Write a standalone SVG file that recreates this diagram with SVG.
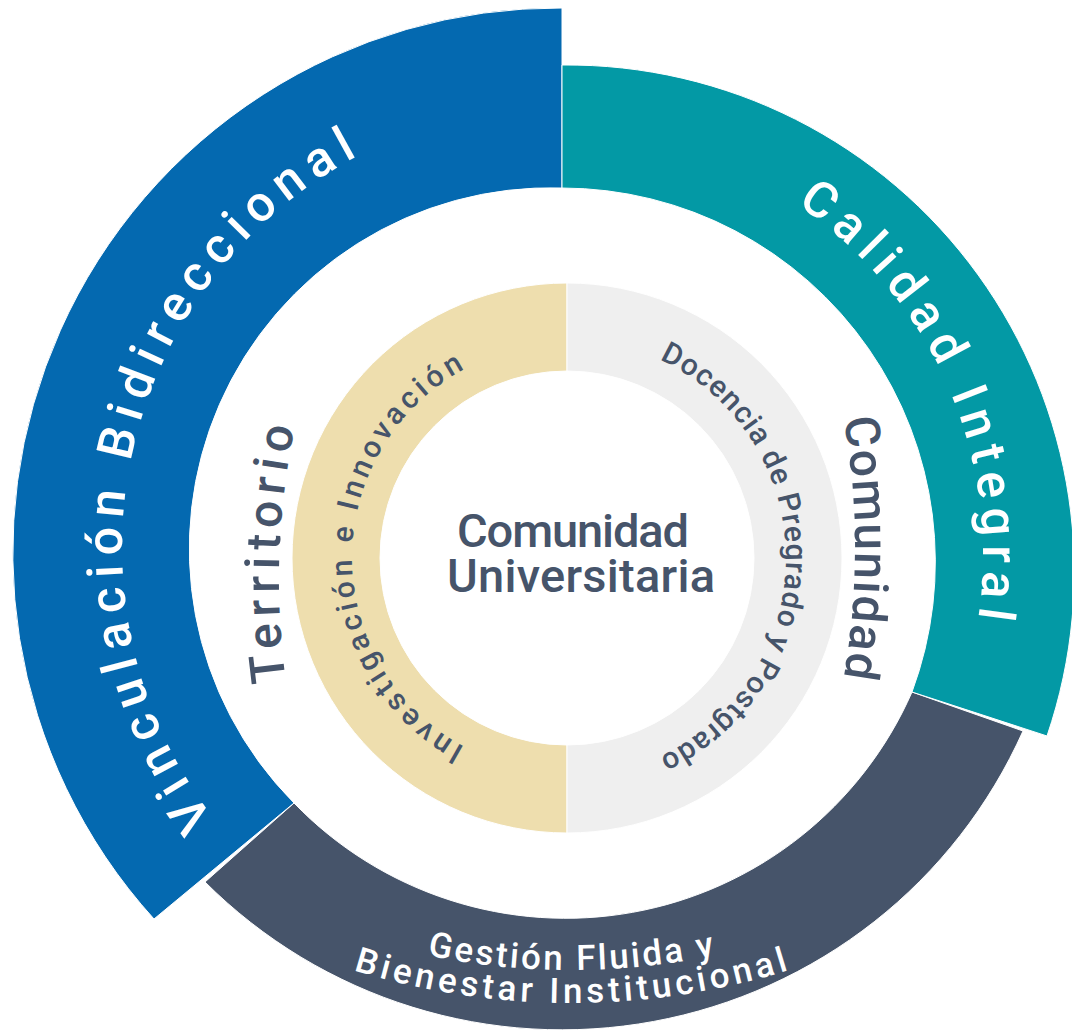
<svg xmlns="http://www.w3.org/2000/svg" width="1072" height="1031" viewBox="0 0 1072 1031">
<defs>
<style>
.seg{stroke:#ffffff;stroke-width:1}
.wt{fill:#ffffff;font-family:Roboto,'Liberation Sans',sans-serif;font-weight:500;text-anchor:middle}
.dk{fill:#46546A;font-family:Roboto,'Liberation Sans',sans-serif;font-weight:500;text-anchor:middle}
</style>
<path id="pV" d="M397.9,958.9 A444,444 0 0 1 583.4,104.3" fill="none"/>
<path id="pC" d="M459.8,144 A423,423 0 0 1 794.7,906.9" fill="none"/>
<path id="pG1" d="M271,903 A705,705 0 0 0 871,903" fill="none"/>
<path id="pG2" d="M251,930.2 A740,740 0 0 0 891,930.2" fill="none"/>
<path id="pT" d="M303.5,770 A750,750 0 0 1 318.4,340" fill="none"/>
<path id="pCo" d="M825.9,341.3 A750,750 0 0 1 825.9,754.7" fill="none"/>
<path id="pD" d="M377.3,448.5 A219,219 0 1 1 377.3,667.5" fill="none"/>
<path id="pI" d="M753.2,665.5 A215,215 0 1 1 753.2,450.5" fill="none"/>
</defs>
<rect width="1072" height="1031" fill="#ffffff"/>

<g id="seg-gestion">
<path class="seg" fill="#46546A" d="M294,803 L205,882 A505,505 0 0 0 1023,731 L912,692 A378,378 0 0 1 294,803 Z"/>
<text class="wt" font-size="35"><textPath href="#pG1" startOffset="50%" textLength="290" lengthAdjust="spacing">Gestión Fluida y</textPath></text>
<text class="wt" font-size="35"><textPath href="#pG2" startOffset="50%" textLength="442" lengthAdjust="spacing">Bienestar Institucional</textPath></text>
</g>

<g id="seg-vinculacion">
<path class="seg" fill="#0469B0" d="M562,8 A545,545 0 0 0 154,919 L294,803 A361,361 0 0 1 562,188 Z"/>
<text class="wt" font-size="50"><textPath href="#pV" startOffset="50%" textLength="771" lengthAdjust="spacing">Vinculación Bidireccional</textPath></text>
</g>

<g id="seg-calidad">
<path class="seg" fill="#0399A5" d="M562,65 A507,507 0 0 1 1047,736 L912,692 A374,374 0 0 0 562,188 Z"/>
<text class="wt" font-size="50"><textPath href="#pC" startOffset="50%" textLength="477" lengthAdjust="spacing">Calidad Integral</textPath></text>
</g>

<g id="label-territorio">
<text class="dk" font-size="48"><textPath href="#pT" startOffset="50%" textLength="255" lengthAdjust="spacing">Territorio</textPath></text>
</g>

<g id="label-comunidad">
<text class="dk" font-size="48"><textPath href="#pCo" startOffset="50%" textLength="260" lengthAdjust="spacing">Comunidad</textPath></text>
</g>

<g id="ring-investigacion">
<path class="seg" fill="#EEDEAE" d="M567,283 A275,275 0 0 0 567,833 L567,745 A187,187 0 0 1 567,371 Z"/>
<text class="dk" font-size="30"><textPath href="#pI" startOffset="50%" textLength="462" lengthAdjust="spacing">Investigación e Innovación</textPath></text>
</g>

<g id="ring-docencia">
<path class="seg" fill="#EFEFEF" d="M567,283 A275,275 0 0 1 567,833 L567,745 A187,187 0 0 0 567,371 Z"/>
<text class="dk" font-size="30"><textPath href="#pD" startOffset="50%" textLength="497" lengthAdjust="spacing">Docencia de Pregrado y Postgrado</textPath></text>
</g>

<g id="center">
<text class="dk" font-size="47" x="573" y="547" textLength="232" lengthAdjust="spacing">Comunidad</text>
<text class="dk" font-size="47" x="581" y="592" textLength="268" lengthAdjust="spacing">Universitaria</text>
</g>

<g id="connectors"/>
</svg>
